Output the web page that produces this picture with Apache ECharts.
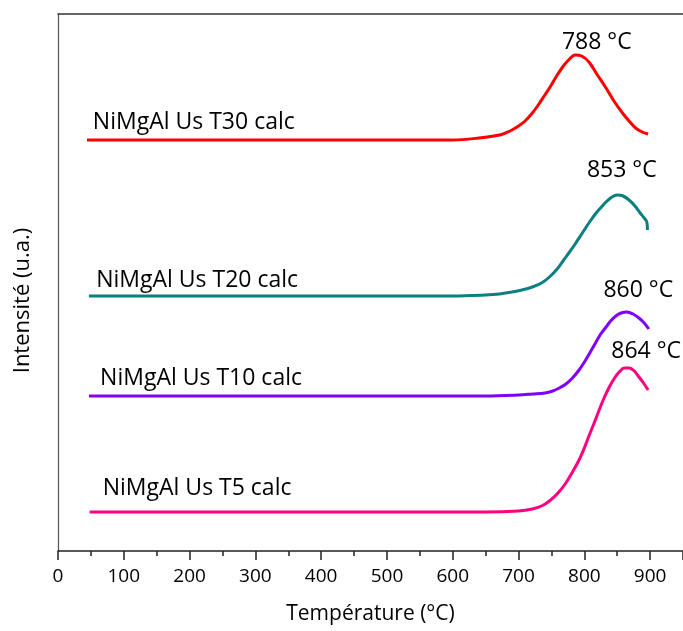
<!DOCTYPE html>
<html>
<head>
<meta charset="utf-8">
<script src="https://cdn.jsdelivr.net/npm/echarts@6/dist/echarts.min.js"></script>
<style>
html,body{margin:0;padding:0;background:#fff;}
#c{width:683px;height:631px;}
</style>
</head>
<body>
<div id="c"></div>
<script>
// Temperature (°C) / intensity (a.u., vertically offset as plotted)
var t30 = [[44,411],[100,411],[200,411],[300,411],[400,411],[500,411],[600,411],[640,413],[671,416],[680,418],[690,421],[700,425],[710,430],[721,438],[730,446],[740,456],[747,463],[757,474],[767,484],[776,491],[786,496],[796,495],[807,489],[820,476],[833,463],[845,450],[858,438],[868,430],[878,423],[888,419],[897,417]];
var t20 = [[47,255],[100,255],[200,255],[300,255],[400,255],[500,255],[600,255],[650,256],[671,257],[690,259],[705,261],[721,264],[735,268],[747,274],[760,283],[772,294],[785,306],[797,318],[808,329],[818,338],[826,344],[833,349],[842,354],[850,356],[859,355],[868,351],[877,345],[885,338],[891,333],[895,329],[896,321]];
var t10 = [[47,155],[100,155],[200,155],[300,155],[400,155],[500,155],[600,155],[650,155],[700,156],[721,157],[740,158],[752,160],[762,163],[772,167],[782,173],[792,181],[802,191],[810,200],[817,208],[825,217],[833,224],[840,230],[848,235],[856,238],[865,239],[874,237],[883,233],[891,228],[898,222]];
var t5  = [[48,39],[100,39],[200,39],[300,39],[400,39],[500,39],[600,39],[650,39],[700,40],[721,42],[735,45],[747,50],[760,58],[772,68],[782,79],[792,91],[800,103],[807,115],[815,128],[822,140],[830,153],[838,164],[846,173],[853,179],[861,183],[868,183],[876,180],[883,174],[890,168],[897,161]];

var seriesNames = ['NiMgAl Us T30 calc','NiMgAl Us T20 calc','NiMgAl Us T10 calc','NiMgAl Us T5 calc'];
var peakLabels = ['788 °C','853 °C','860 °C','864 °C'];
var colors = ['#ff0000','#0a8080','#8000ff','#ff0080'];
var xTicks = [0,100,200,300,400,500,600,700,800,900];

var nameAnchors = [[53,429],[58,271],[64,173],[68,63]];
var peakAnchors = [[819,509],[857,381],[882,261],[894,200]];

var FONT = 'Open Sans';
var dataSets = [t30,t20,t10,t5];

var series = dataSets.map(function(d,i){
  return {
    type:'line', name:seriesNames[i], data:d, showSymbol:false, symbol:'none',
    smooth:0.35,
    lineStyle:{color:colors[i], width:3},
    itemStyle:{color:colors[i]},
    z:2,
    markPoint:{
      symbol:'circle', symbolSize:0, silent:true, animation:false,
      data:[
        {coord:nameAnchors[i], label:{show:true, formatter:seriesNames[i], position:'inside', align:'left', verticalAlign:'middle', color:'#000', fontFamily:FONT, fontSize:23}},
        {coord:peakAnchors[i], label:{show:true, formatter:peakLabels[i], position:'inside', align:'center', verticalAlign:'middle', color:'#000', fontFamily:FONT, fontSize:23}}
      ]
    }
  };
});

var chart = echarts.init(document.getElementById('c'), null, {renderer:'canvas'});
chart.setOption({
  animation:false,
  backgroundColor:'#fff',
  grid:{left:58, right:0, top:14, bottom:80},
  xAxis:[{
    type:'value', min:0, max:950, interval:100,
    name:'Température (°C)', nameLocation:'middle', nameGap:53,
    nameTextStyle:{fontFamily:FONT, fontSize:21, color:'#000'},
    axisLine:{show:true, onZero:false, lineStyle:{color:'#222', width:1.5}},
    axisTick:{show:true, length:9, lineStyle:{color:'#222', width:1.5}},
    minorTick:{show:true, splitNumber:2, length:5, lineStyle:{color:'#222', width:1.5}},
    axisLabel:{fontFamily:FONT, fontSize:19, color:'#000', margin:16, showMaxLabel:false,
      formatter:function(v){ return xTicks.indexOf(v) >= 0 ? String(v) : ''; }},
    splitLine:{show:false}
  },{
    type:'value', min:0, max:950, position:'top',
    axisLine:{show:true, onZero:false, lineStyle:{color:'#333', width:1.5}},
    axisTick:{show:false}, axisLabel:{show:false}, splitLine:{show:false}
  }],
  yAxis:{
    type:'value', min:0, max:537,
    name:'Intensité (u.a.)', nameLocation:'middle', nameGap:24,
    nameTextStyle:{fontFamily:FONT, fontSize:22, color:'#000', padding:[0,36,0,0]},
    axisLine:{show:true, onZero:false, lineStyle:{color:'#555', width:1.2}},
    axisTick:{show:false}, axisLabel:{show:false}, splitLine:{show:false}
  },
  series:series
});
</script>
</body>
</html>
